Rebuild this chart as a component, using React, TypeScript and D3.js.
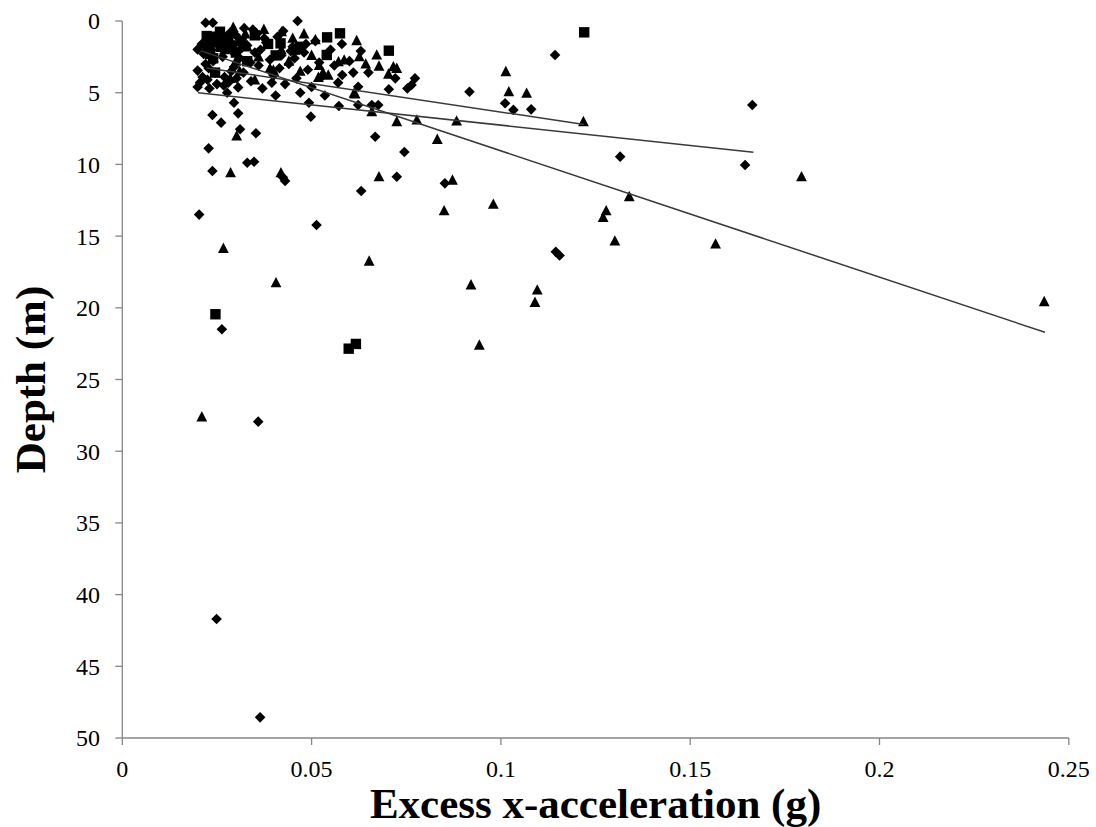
import React from "react";
import * as d3 from "d3";

// ---- Data ----
// Diamonds: [excess x-acceleration (g), depth (m)]
const diamondX = [
  0.0463, 0.0220, 0.0239, 0.0199, 0.0199, 0.0199, 0.0205, 0.0210, 0.0215, 0.0220, 0.0225, 0.0230,
  0.0235, 0.0240, 0.0245, 0.0250, 0.0260, 0.0265, 0.0270, 0.0275, 0.0280, 0.0290, 0.0295, 0.0300,
  0.0310, 0.0320, 0.0330, 0.0340, 0.0350, 0.0355, 0.0360, 0.0370, 0.0380, 0.0390, 0.0400, 0.0405,
  0.0410, 0.0420, 0.0430, 0.0440, 0.0450, 0.0460, 0.0470, 0.0480, 0.0490, 0.0500, 0.0510, 0.0520,
  0.0530, 0.0550, 0.0560, 0.0570, 0.0580, 0.0600, 0.0610, 0.0630, 0.0255, 0.0285, 0.0315, 0.0345,
  0.0375, 0.0425, 0.0455, 0.0485, 0.0212, 0.0228, 0.0248, 0.0268, 0.0288, 0.0302, 0.0322, 0.0338,
  0.0365, 0.0395, 0.0415, 0.0445,
  0.0238, 0.0261, 0.0306, 0.0295, 0.0306, 0.0277, 0.0228, 0.0238, 0.0330, 0.0348, 0.0353, 0.0311,
  0.0424, 0.0430, 0.0493, 0.0498, 0.0535, 0.0572, 0.0623, 0.0659, 0.0676, 0.0668, 0.0745, 0.0725,
  0.0631, 0.0852, 0.0704, 0.0721, 0.0753, 0.0764, 0.0773, 0.0650, 0.0581, 0.0623, 0.0917, 0.1011,
  0.1033, 0.1080, 0.1143, 0.1664, 0.1645, 0.1315, 0.1145, 0.1155, 0.0203, 0.0263, 0.0513, 0.0359,
  0.0249, 0.0364,
];
const diamondY = [
  0.0, 0.12, 0.12, 1.98, 3.46, 4.6, 4.3, 1.6, 2.3, 3.0, 4.1, 4.7,
  2.0, 2.8, 3.6, 4.4, 1.2, 2.5, 3.9, 1.6, 4.3, 2.1, 3.2, 1.0,
  2.6, 3.6, 1.7, 4.2, 2.2, 0.9, 3.1, 4.7, 1.5, 2.7, 3.8, 5.2,
  1.1, 2.4, 4.4, 3.0, 1.8, 4.0, 5.0, 2.2, 3.4, 4.6, 1.4, 2.9,
  3.8, 2.0, 3.1, 4.3, 1.6, 2.8, 3.6, 2.1, 1.5, 0.8, 1.9, 0.6,
  1.2, 0.7, 2.6, 1.6, 3.9, 3.3, 1.0, 4.5, 3.5, 4.0, 0.5, 2.9,
  2.0, 4.3, 3.3, 2.1,
  6.55, 7.09, 6.44, 5.7, 4.63, 5.0, 8.88, 10.46, 9.88, 9.81, 7.83, 7.55,
  10.9, 11.15, 5.7, 6.67, 5.2, 5.93, 5.86, 5.86, 5.86, 8.07, 9.14, 10.86,
  11.85, 11.32, 4.76, 4.0, 4.7, 4.46, 4.0, 3.6, 3.77, 4.58, 4.93, 5.74,
  6.2, 6.16, 2.37, 5.86, 10.04, 9.46, 16.1, 16.35, 13.5, 21.5, 14.23, 27.94,
  41.7, 48.56,
];

// Triangles
const triangleX = [
  0.0293, 0.0374, 0.0421, 0.0325, 0.0450, 0.0480, 0.0510, 0.0245, 0.0270, 0.0300, 0.0330, 0.0360,
  0.0390, 0.0420, 0.0440, 0.0470, 0.0500, 0.0520, 0.0285, 0.0310, 0.0530, 0.0544, 0.0518, 0.0571,
  0.0586, 0.0619, 0.0626, 0.0643, 0.0672, 0.0678, 0.0716, 0.0725, 0.0703, 0.0612, 0.0615, 0.0659,
  0.0725, 0.0778, 0.0883, 0.0832, 0.1013, 0.1021, 0.1068, 0.1218, 0.0302, 0.0286, 0.0419, 0.0678,
  0.0872, 0.0850, 0.0980, 0.1339, 0.1278, 0.1270, 0.1301, 0.1567, 0.1794, 0.2435, 0.0267, 0.0406,
  0.0652, 0.0921, 0.0943, 0.1096, 0.1090, 0.0210, 0.0399, 0.0350,
];
const triangleY = [
  0.44, 0.58, 0.75, 0.9, 1.2, 0.9, 1.3, 1.3, 2.0, 2.8, 1.8, 2.5,
  3.3, 2.0, 2.8, 3.5, 2.4, 3.1, 4.0, 3.5, 3.6, 3.77, 3.93, 2.84,
  2.72, 1.37, 2.49, 3.0, 2.37, 3.14, 3.19, 3.3, 3.7, 5.04, 5.09, 6.32,
  7.02, 6.9, 6.97, 8.25, 3.53, 4.93, 5.04, 7.02, 8.02, 10.58, 10.58, 10.86,
  11.09, 13.23, 12.78, 12.25, 13.23, 13.69, 15.34, 15.55, 10.86, 19.57, 15.85, 18.25,
  16.74, 18.4, 22.6, 18.76, 19.62, 27.6, 3.42, 4.1,
];

// Squares
const squareX = [
  0.0223, 0.0235, 0.0225, 0.0240, 0.0258, 0.0260, 0.0245, 0.0280, 0.0300, 0.0315, 0.0330, 0.0350,
  0.0385, 0.0418, 0.0405, 0.0456, 0.0470, 0.0541, 0.0540, 0.0575, 0.0704, 0.1220, 0.0246, 0.0598,
  0.0617, 0.0230, 0.0250, 0.0270, 0.0232, 0.0290,
];
const squareY = [
  1.05, 1.5, 2.0, 2.6, 0.75, 1.8, 3.6, 1.2, 2.2, 1.4, 2.8, 1.0,
  1.6, 1.56, 2.4, 2.0, 1.8, 1.14, 2.37, 0.86, 2.07, 0.79, 20.45, 22.85,
  22.52, 1.3, 1.1, 1.5, 2.3, 1.7,
];

// Linear trend lines, one per series: [x start, depth start, x end, depth end]
const trendDiamond = [0.0200, 5.0, 0.1667, 9.15];
const trendTriangle = [0.0210, 2.10, 0.2437, 21.71];
const trendSquare = [0.0223, 3.27, 0.1220, 7.22];

// Axis ticks
const xTicks = [0, 0.05, 0.1, 0.15, 0.2, 0.25];
const xTickLabels = ["0", "0.05", "0.1", "0.15", "0.2", "0.25"];
const yTicks = [0, 5, 10, 15, 20, 25, 30, 35, 40, 45, 50];

const xTitle = "Excess x-acceleration (g)";
const yTitle = "Depth (m)";

export default function App() {
  const W = 1096;
  const H = 827;
  const x = d3.scaleLinear().domain([0, 0.25]).range([122.3, 1068.8]);
  const y = d3.scaleLinear().domain([0, 50]).range([21, 738]);
  const axisColor = "#868686";
  const font = "'Liberation Serif', 'Times New Roman', serif";

  const diamondPath = "M0,-5.3L5.3,0L0,5.3L-5.3,0Z";
  const trianglePath = "M0,-5.8L5.4,4.6L-5.4,4.6Z";
  const squarePath = "M-5.2,-5.2H5.2V5.2H-5.2Z";

  const line = d3
    .line<[number, number]>()
    .x((d) => x(d[0]))
    .y((d) => y(d[1]));

  const trends = [trendDiamond, trendTriangle, trendSquare];

  return (
    <svg
      width={W}
      height={H}
      style={{ position: "absolute", left: 0, top: 0, background: "#fff" }}
    >
      <rect x={0} y={0} width={W} height={H} fill="#fff" />
      {/* Axes */}
      <line x1={x(0)} x2={x(0)} y1={y(0)} y2={y(50)} stroke={axisColor} strokeWidth={1.3} />
      <line x1={x(0)} x2={x(0.25)} y1={y(50)} y2={y(50)} stroke={axisColor} strokeWidth={1.3} />
      {yTicks.map((t) => (
        <g key={"yt" + t}>
          <line x1={x(0) - 7} x2={x(0)} y1={y(t)} y2={y(t)} stroke={axisColor} strokeWidth={1.3} />
          <text
            x={100}
            y={y(t)}
            dy="0.35em"
            textAnchor="end"
            fontFamily={font}
            fontSize={24}
            fill="#000"
          >
            {t}
          </text>
        </g>
      ))}
      {xTicks.map((t, i) => (
        <g key={"xt" + t}>
          <line x1={x(t)} x2={x(t)} y1={y(50)} y2={y(50) + 7} stroke={axisColor} strokeWidth={1.3} />
          <text
            x={x(t)}
            y={777}
            textAnchor="middle"
            fontFamily={font}
            fontSize={24}
            fill="#000"
          >
            {xTickLabels[i]}
          </text>
        </g>
      ))}

      {/* Points */}
      {squareX.map((v, i) => (
        <path key={"s" + i} d={squarePath} transform={`translate(${x(v)},${y(squareY[i])})`} fill="#000" />
      ))}
      {triangleX.map((v, i) => (
        <path key={"t" + i} d={trianglePath} transform={`translate(${x(v)},${y(triangleY[i])})`} fill="#000" />
      ))}
      {diamondX.map((v, i) => (
        <path key={"d" + i} d={diamondPath} transform={`translate(${x(v)},${y(diamondY[i])})`} fill="#000" />
      ))}

      {/* Trend lines */}
      {trends.map((t, i) => (
        <path
          key={"tr" + i}
          d={line([
            [t[0], t[1]],
            [t[2], t[3]],
          ]) || ""}
          fill="none"
          stroke="#3a3a3a"
          strokeWidth={1.5}
        />
      ))}

      {/* Titles */}
      <text
        x={(x(0) + x(0.25)) / 2}
        y={818}
        textAnchor="middle"
        fontFamily={font}
        fontWeight="bold"
        fontSize={43}
        fill="#000"
      >
        {xTitle}
      </text>
      <text
        transform={`translate(45,${(y(0) + y(50)) / 2}) rotate(-90)`}
        textAnchor="middle"
        fontFamily={font}
        fontWeight="bold"
        fontSize={43}
        fill="#000"
      >
        {yTitle}
      </text>
    </svg>
  );
}
